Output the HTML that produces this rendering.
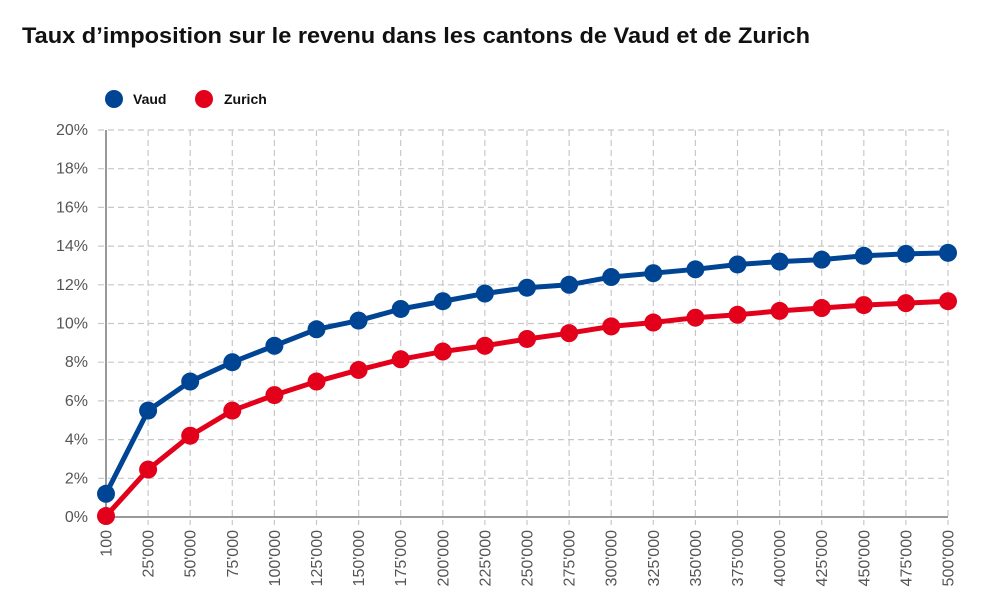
<!DOCTYPE html>
<html><head><meta charset="utf-8"><style>
body{margin:0;background:#fff;width:1000px;height:606px;overflow:hidden;font-family:"Liberation Sans",sans-serif}
</style></head><body>
<svg width="1000" height="606" xmlns="http://www.w3.org/2000/svg">
<text x="22" y="43" font-size="22" font-weight="bold" fill="#111" textLength="788" lengthAdjust="spacingAndGlyphs">Taux d’imposition sur le revenu dans les cantons de Vaud et de Zurich</text>
<g>
<circle cx="114" cy="99" r="9" fill="#004494"/>
<text x="133" y="104" font-size="14" font-weight="bold" fill="#111">Vaud</text>
<circle cx="204" cy="99" r="9" fill="#e2001a"/>
<text x="224" y="104" font-size="14" font-weight="bold" fill="#111">Zurich</text>
</g>
<g id="grid"></g><g id="axes"></g><g id="series"></g>
</svg>
<script>
const categories=["100","25'000","50'000","75'000","100'000","125'000","150'000","175'000","200'000","225'000","250'000","275'000","300'000","325'000","350'000","375'000","400'000","425'000","450'000","475'000","500'000"];
const vaud=[1.2,5.5,7.0,8.0,8.85,9.7,10.15,10.75,11.15,11.55,11.85,12.0,12.4,12.6,12.8,13.05,13.2,13.3,13.5,13.6,13.65];
const zurich=[0.05,2.45,4.2,5.5,6.3,7.0,7.6,8.15,8.55,8.85,9.2,9.5,9.85,10.05,10.3,10.45,10.65,10.8,10.95,11.05,11.15];
const yTicks=[0,2,4,6,8,10,12,14,16,18,20];
const NS="http://www.w3.org/2000/svg";
const x0=106,x1=948,y0=517,y1=130;
const xs=i=>x0+(x1-x0)*i/(categories.length-1);
const ys=v=>y0-(y0-y1)*v/20;
function mk(t,a,p){const e=document.createElementNS(NS,t);for(const k in a)e.setAttribute(k,a[k]);p.appendChild(e);return e;}
const grid=document.getElementById('grid'),axes=document.getElementById('axes'),ser=document.getElementById('series');
yTicks.forEach(v=>{
 const l=mk('line',{x1:x0-8,x2:x1,y1:ys(v),y2:ys(v),stroke:'#c8c8c8','stroke-width':1.2,'stroke-dasharray':'6,4'},grid);
 
 
 const t=mk('text',{x:x0-18,y:ys(v)+5,'font-size':16,fill:'#555','text-anchor':'end'},axes);
 t.textContent=v+'%';
 
 
});
categories.forEach((c,i)=>{
 const x=xs(i);
 if(i>0){const l=mk('line',{x1:x,x2:x,y1:y1,y2:y0+8,stroke:'#c8c8c8','stroke-width':1.2,'stroke-dasharray':'6,4'},grid);
 
 }
 const t=mk('text',{transform:`translate(${x+5.5},${y0+13}) rotate(-90)`,'font-size':16,fill:'#555','text-anchor':'end'},axes);
 t.textContent=c;
 
 
});
const ax=mk('line',{x1:x0,x2:x0,y1:y1,y2:y0,stroke:'#999','stroke-width':2},axes);


const bx=mk('line',{x1:x0,x2:x1,y1:y0,y2:y0,stroke:'#999','stroke-width':2},axes);


[[vaud,'#004494','vaud'],[zurich,'#e2001a','zurich']].forEach(([d,c,n])=>{
 const p=mk('polyline',{points:d.map((v,i)=>xs(i)+','+ys(v)).join(' '),fill:'none',stroke:c,'stroke-width':5,'stroke-linejoin':'round'},ser);
 
 
 d.forEach((v,i)=>{const m=mk('circle',{cx:xs(i),cy:ys(v),r:9,fill:c},ser);
 
 });
});
</script>
</body></html>
